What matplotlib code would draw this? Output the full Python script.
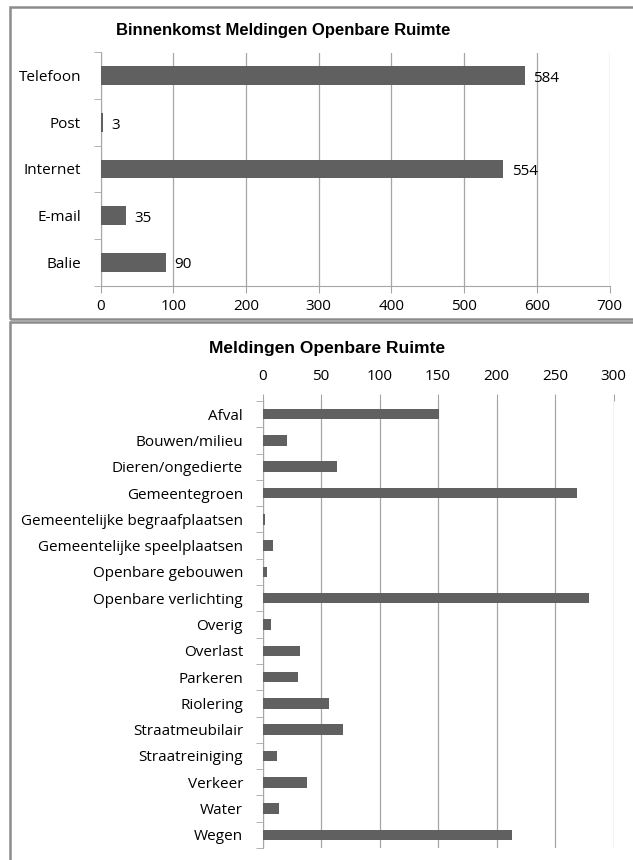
import matplotlib
matplotlib.use("Agg")
import matplotlib.pyplot as plt
from matplotlib.patches import Rectangle

# data bovenste grafiek
kanalen = ["Telefoon", "Post", "Internet", "E-mail", "Balie"]
kanaal_aantallen = [584, 3, 554, 35, 90]
kanaal_ticks = [0, 100, 200, 300, 400, 500, 600, 700]

# data onderste grafiek
categorieen = ["Afval", "Bouwen/milieu", "Dieren/ongedierte", "Gemeentegroen",
               "Gemeentelijke begraafplaatsen", "Gemeentelijke speelplaatsen",
               "Openbare gebouwen", "Openbare verlichting", "Overig", "Overlast",
               "Parkeren", "Riolering", "Straatmeubilair", "Straatreiniging",
               "Verkeer", "Water", "Wegen"]
categorie_aantallen = [151, 21, 64, 269, 2, 9, 4, 279, 7, 32, 30, 57, 69, 12, 38, 14, 213]
categorie_ticks = [0, 50, 100, 150, 200, 250, 300]

W, H = 633, 860
BALK = "#606060"
GRID = "#a6a6a6"
LABELFONT = "Open Sans"
TITELFONT = "Liberation Sans"
FS = 11

fig = plt.figure(figsize=(W / 100, H / 100), dpi=100)

def box(x0, y0, x1, y1):
    # pixelcoordinaten (van boven) naar figuurcoordinaten
    return [x0 / W, 1 - y1 / H, (x1 - x0) / W, (y1 - y0) / H]

# kaders rond de twee grafieken
for y0, y1 in [(7, 319), (322, 880)]:
    fig.add_artist(Rectangle((10 / W, 1 - y1 / H), (640 - 10) / W, (y1 - y0) / H,
                             transform=fig.transFigure, fill=False,
                             edgecolor="#8c8c8c", linewidth=1.8))

def staafgrafiek(ax, labels, waarden, ticks):
    n = len(labels)
    pos = list(range(n))
    ax.barh(pos, waarden, height=0.4, color=BALK, zorder=3)
    ax.set_ylim(n - 0.5, -0.5)
    ax.set_xlim(ticks[0], ticks[-1])
    ax.set_xticks(ticks)
    ax.set_xticklabels([str(t) for t in ticks], fontfamily=LABELFONT, fontsize=FS)
    ax.set_yticks(pos)
    ax.set_yticklabels(labels, fontfamily=LABELFONT, fontsize=FS)
    ax.set_yticks([p - 0.5 for p in range(n + 1)], minor=True)
    ax.tick_params(axis="y", which="major", length=0, pad=14)
    ax.tick_params(axis="y", which="minor", length=5, color=GRID, direction="out")
    ax.grid(axis="x", color=GRID, linewidth=0.9, zorder=0)
    ax.spines["right"].set_visible(False)
    ax.spines["left"].set_color(GRID)
    ax.set_facecolor("none")

# bovenste grafiek
ax1 = fig.add_axes(box(100.5, 52.5, 609.5, 285.5))
staafgrafiek(ax1, kanalen, kanaal_aantallen, kanaal_ticks)
ax1.spines["top"].set_visible(False)
ax1.spines["bottom"].set_color(GRID)
ax1.tick_params(axis="x", length=5, color=GRID, pad=5)
for i, v in enumerate(kanaal_aantallen):
    ax1.annotate(str(v), (v, i), xytext=(6, -2), textcoords="offset points",
                 va="center", ha="left", fontfamily=LABELFONT, fontsize=FS)
fig.text(283 / W, 1 - 31 / H, "Binnenkomst Meldingen Openbare Ruimte",
         ha="center", va="center", fontfamily=TITELFONT, fontweight="bold", fontsize=12)

# onderste grafiek
ax2 = fig.add_axes(box(262.5, 401, 613.5, 848))
staafgrafiek(ax2, categorieen, categorie_aantallen, categorie_ticks)
ax2.spines["top"].set_visible(False)
ax2.spines["bottom"].set_visible(False)
ax2.xaxis.tick_top()
ax2.tick_params(axis="x", length=5, color=GRID, pad=7, top=True, bottom=False)
fig.text(327 / W, 1 - 348 / H, "Meldingen Openbare Ruimte",
         ha="center", va="center", fontfamily=TITELFONT, fontweight="bold", fontsize=12.5)

fig.savefig("out.png", dpi=100)
